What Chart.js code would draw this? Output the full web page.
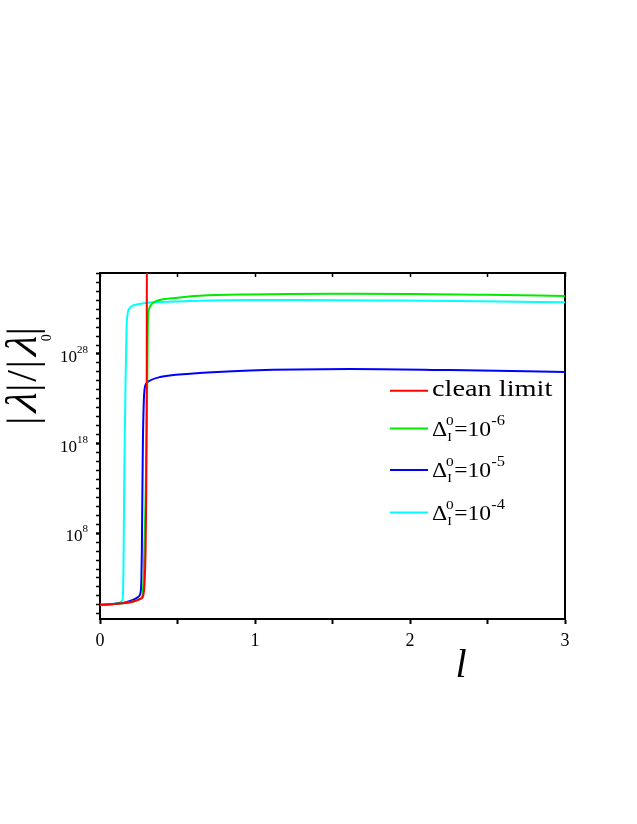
<html>
<head>
  <title>lambda flow</title>
  <script src="https://cdn.jsdelivr.net/npm/chart.js@4.4.1/dist/chart.umd.min.js"></script>
  <style>
    body { margin: 0; background: white; }
  </style>
</head>
<body>
<canvas id="chartCanvas" width="637" height="824"></canvas>
<script>
// values: l and log10(|lambda|/|lambda_0|)
const cleanL   = [0, 0.065, 0.161, 0.226, 0.258, 0.276, 0.284, 0.289, 0.294, 0.298, 0.300, 0.3015, 0.302, 0.3025];
const cleanExp = [0, 0.07, 0.2, 0.43, 0.65, 0.88, 1.6, 3.0, 6.0, 11.7, 18.4, 25.1, 33, 40];

const d6L   = [0, 0.065, 0.161, 0.226, 0.258, 0.272, 0.277, 0.281, 0.286, 0.294, 0.300, 0.305, 0.308, 0.311, 0.316, 0.323, 0.335, 0.355, 0.387, 0.484, 0.645, 0.968, 1.5, 2.0, 2.5, 3.0];
const d6Exp = [0, 0.07, 0.2, 0.43, 0.65, 0.88, 1.6, 3.0, 6.0, 11.7, 18.4, 25.1, 30.7, 32.5, 33.0, 33.3, 33.6, 33.85, 34.03, 34.25, 34.5, 34.65, 34.72, 34.7, 34.6, 34.47];

const d5L   = [0, 0.065, 0.161, 0.213, 0.245, 0.261, 0.267, 0.270, 0.273, 0.277, 0.283, 0.287, 0.297, 0.323, 0.387, 0.581, 0.968, 1.61, 2.26, 3.0];
const d5Exp = [0, 0.07, 0.26, 0.54, 0.87, 1.32, 2.8, 6.0, 11.7, 18.4, 22.9, 24.0, 24.65, 25.04, 25.43, 25.8, 26.16, 26.33, 26.2, 26.0];

const d4L   = [0, 0.065, 0.116, 0.142, 0.148, 0.152, 0.157, 0.165, 0.171, 0.177, 0.187, 0.206, 0.239, 0.323, 0.484, 0.968, 1.29, 1.935, 2.45, 3.0];
const d4Exp = [0, 0.07, 0.2, 0.43, 1.1, 5.0, 15.05, 25.1, 30.7, 32.35, 33.0, 33.36, 33.52, 33.75, 33.86, 34.03, 34.03, 33.96, 33.88, 33.77];

const yLabelExps = [8, 18, 28];
const xLabels = [0, 1, 2, 3];
const legendExps = ['-6', '-5', '-4'];

const serif = "'Liberation Serif', 'DejaVu Serif', serif";

function pts(ls, es) {
  return ls.map((l, i) => ({ x: l, y: Math.pow(10, es[i]) }));
}

const series = [
  { key: 'clean', l: cleanL, e: cleanExp, color: 'rgb(255,0,0)' },
  { key: 'd6', l: d6L, e: d6Exp, color: 'rgb(0,235,0)' },
  { key: 'd5', l: d5L, e: d5Exp, color: 'rgb(0,0,255)' },
  { key: 'd4', l: d4L, e: d4Exp, color: 'rgb(0,255,255)' }
];

// decade ticks for the log axis
let decadeTicks = [];
for (let k = -1; k <= 37; k++) decadeTicks.push({ value: Math.pow(10, k), major: yLabelExps.includes(k) });

const textPlugin = {
  id: 'textPlugin',
  afterDraw(chart) {
    const ctx = chart.ctx;
    const ys = chart.scales.y;
    ctx.save();
    ctx.fillStyle = '#000';

    // y tick labels 10^n
    yLabelExps.forEach(n => {
      const py = ys.getPixelForValue(Math.pow(10, n));
      ctx.font = '11px ' + serif;
      ctx.textAlign = 'right';
      ctx.textBaseline = 'alphabetic';
      const sup = String(n);
      const w = ctx.measureText(sup).width;
      ctx.fillText(sup, 88, py - 1);
      ctx.font = '17px ' + serif;
      ctx.fillText('10', 88 - w, py + 8);
    });

    // y axis title |λ|/|λ|0
    ctx.translate(36, 376);
    ctx.rotate(-Math.PI / 2);
    ctx.textAlign = 'left';
    const parts = ['|', 'λ', '|', '/', '|', 'λ', '|'];
    const fontOf = p => p === 'λ' ? '44px ' + serif : '42px ' + serif;
    let total = 0;
    parts.forEach(p => { ctx.font = fontOf(p); total += ctx.measureText(p).width; });
    const gap = Math.max(0, (98 - total) / 6);
    let tx = -(total + gap * 6) / 2;
    let subX = 0;
    parts.forEach((p, i) => {
      ctx.font = fontOf(p);
      const w = ctx.measureText(p).width;
      if (p === 'λ') {
        // slanted lambda
        ctx.save();
        ctx.translate(tx, 0);
        ctx.transform(1, 0, -0.3, 1, 0, 0);
        ctx.fillText(p, 0, 0);
        ctx.restore();
      } else {
        ctx.fillText(p, tx, 0);
      }
      if (i === 5) subX = tx + w * 0.8;
      tx += w + gap;
    });
    ctx.font = '14px ' + serif;
    ctx.fillText('0', subX, 15);
    ctx.setTransform(1, 0, 0, 1, 0, 0);

    // x axis title
    ctx.font = 'italic 40px ' + serif;
    ctx.textAlign = 'center';
    ctx.textBaseline = 'alphabetic';
    ctx.fillText('l', 461, 677);

    // legend
    const rows = [390.7, 428.5, 470, 512.5];
    series.forEach((s, i) => {
      const ly = rows[i];
      ctx.strokeStyle = s.color;
      ctx.lineWidth = 2;
      ctx.beginPath();
      ctx.moveTo(390, ly);
      ctx.lineTo(428, ly);
      ctx.stroke();
      ctx.save();
      ctx.translate(432, 0);
      ctx.scale(1.18, 1);
      ctx.textAlign = 'left';
      if (i === 0) {
        ctx.font = '24px ' + serif;
        ctx.fillText('clean limit', 0, ly + 5.5);
      } else {
        let x = 0;
        const base = ly + 7;
        ctx.font = '20px ' + serif;
        ctx.fillText('Δ', x, base);
        x += ctx.measureText('Δ').width - 1;
        ctx.font = '13px ' + serif;
        ctx.fillText('0', x, base - 11);
        ctx.font = '12px ' + serif;
        ctx.fillText('I', x + 1, base + 5);
        x += 7;
        ctx.font = '20px ' + serif;
        ctx.fillText('=10', x, base);
        x += ctx.measureText('=10').width;
        ctx.font = '14px ' + serif;
        ctx.fillText(legendExps[i - 1], x, base - 11);
      }
      ctx.restore();
    });
    ctx.restore();
  }
};

const ctx = document.getElementById('chartCanvas').getContext('2d');
const chart = new Chart(ctx, {
  type: 'line',
  data: {
    datasets: series.map(s => ({
      label: s.key,
      data: pts(s.l, s.e),
      borderColor: s.color,
      backgroundColor: s.color,
      borderWidth: 2,
      pointRadius: 0,
      cubicInterpolationMode: 'monotone',
      fill: false
    }))
  },
  options: {
    responsive: false,
    animation: false,
    layout: { padding: { top: 273, right: 72, left: 0, bottom: 0 } },
    plugins: {
      legend: { display: false },
      tooltip: { enabled: false }
    },
    scales: {
      x: {
        type: 'linear',
        position: 'bottom',
        min: 0,
        max: 3,
        afterFit: s => { s.height = 824 - 619; },
        ticks: {
          stepSize: 0.5,
          padding: 6,
          color: '#000',
          font: { family: serif, size: 18 },
          maxRotation: 0,
          callback: v => xLabels.includes(v) ? String(v) : ''
        },
        grid: {
          drawOnChartArea: false,
          drawTicks: true,
          tickLength: 5,
          tickColor: '#000',
          tickWidth: 2
        },
        border: { color: '#000', width: 2 }
      },
      x2: {
        type: 'linear',
        position: 'top',
        min: 0,
        max: 3,
        afterFit: s => { s.height = 0; },
        ticks: { display: false, stepSize: 0.5 },
        grid: {
          drawOnChartArea: false,
          drawTicks: true,
          tickLength: -4,
          tickColor: '#000',
          tickWidth: 1.5
        },
        border: { color: '#000', width: 2 }
      },
      y: {
        type: 'logarithmic',
        position: 'left',
        min: Math.pow(10, -1.58),
        max: Math.pow(10, 37.04),
        afterFit: s => { s.width = 100; },
        afterBuildTicks: s => { s.ticks = decadeTicks.map(t => ({ value: t.value, major: t.major })); },
        ticks: { display: false },
        grid: {
          drawOnChartArea: false,
          drawTicks: true,
          tickLength: 4,
          tickColor: '#000',
          tickWidth: c => (c.tick && c.tick.major) ? 2.5 : 1.5
        },
        border: { color: '#000', width: 2 }
      },
      y2: {
        type: 'linear',
        position: 'right',
        min: 0,
        max: 1,
        afterFit: s => { s.width = 0; },
        ticks: { display: false },
        grid: { display: false },
        border: { color: '#000', width: 2 }
      }
    }
  },
  plugins: [textPlugin]
});
</script>
</body>
</html>
